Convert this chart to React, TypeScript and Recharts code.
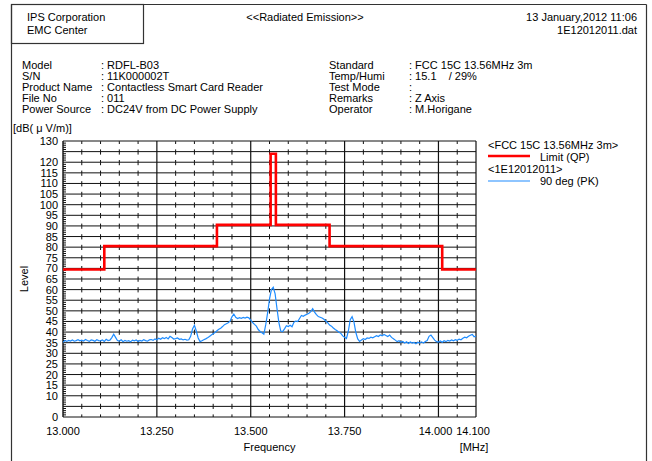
import React from 'react';
import { LineChart, Line, XAxis, YAxis, ReferenceLine } from 'recharts';

const FONT = '"Liberation Sans", Arial, Helvetica, sans-serif';

// FCC Part 15C 13.56 MHz limit (QP): breakpoints in MHz / dB(uV/m)
const LIMIT_FREQ = [13.0, 13.11, 13.41, 13.553, 13.567, 13.71, 14.01, 14.1];
const LIMIT_LEVEL = [69.5, 80.5, 90.5, 124.0, 90.5, 80.5, 69.5, 69.5];

// Measured sweep, 90 deg (PK), one reading every 5 kHz from 13.000 MHz
const SWEEP_START = 13.0;
const SWEEP_STEP = 0.005;
const SWEEP_LEVEL = [
  35.2, 36.0, 35.6, 36.1, 35.8, 36.3, 35.7, 36.0, 36.4, 35.9,
  36.2, 35.8, 36.5, 36.0, 35.6, 36.3, 36.1, 35.7, 36.4, 36.0,
  35.9, 36.3, 35.6, 36.6, 36.0, 36.2, 37.4, 39.0, 37.5, 36.0,
  35.8, 36.4, 35.5, 36.1, 35.7, 36.0, 35.4, 36.2, 35.9, 36.3,
  35.6, 36.1, 35.8, 36.4, 36.0, 35.7, 36.3, 36.5, 36.1, 36.8,
  36.4, 37.1, 36.6, 37.3, 36.9, 37.5, 36.8, 38.0, 37.4, 36.7,
  36.9, 37.2, 36.6, 36.8, 36.3, 36.6, 36.2, 36.4, 38.0, 41.5,
  43.2, 40.5, 37.2, 35.5, 35.9, 36.4, 36.8, 37.3, 37.9, 38.6,
  39.2, 39.8, 40.6, 41.3, 41.8, 42.6, 43.5, 43.9, 44.4, 45.1,
  47.2, 48.5, 47.0, 46.4, 46.8, 46.5, 46.9, 46.6, 47.0, 46.7,
  45.6, 44.5, 43.6, 42.8, 41.2, 40.3, 39.7, 39.0, 43.5, 49.0,
  55.5, 60.0, 61.1, 58.0, 51.0, 44.5, 40.5, 40.2, 41.5, 43.0,
  42.6, 43.2, 42.5, 44.6, 45.2, 45.0, 46.4, 47.8, 47.4, 48.0,
  48.4, 48.9, 49.6, 51.0, 49.4, 48.2, 47.3, 47.0, 46.6, 46.0,
  45.2, 44.4, 43.3, 42.8, 41.9, 41.2, 40.6, 39.9, 39.4, 38.2,
  37.6, 37.0, 40.5, 45.8, 47.3, 44.7, 39.8, 36.8, 35.6, 36.3,
  36.9, 36.5, 37.2, 37.0, 37.6, 37.3, 37.8, 38.3, 37.9, 38.6,
  38.2, 38.9, 38.4, 37.9, 38.6, 37.5, 36.9, 36.2, 35.5, 35.9,
  35.2, 35.6, 34.9, 35.4, 34.6, 35.3, 34.8, 35.1, 34.5, 35.2,
  34.8, 35.4, 34.9, 35.6, 36.0, 38.0, 38.6, 37.4, 36.2, 35.5,
  35.3, 35.8, 35.2, 35.9, 35.5, 36.1, 35.8, 36.3, 35.9, 36.4,
  36.1, 36.7, 36.4, 37.1, 37.6, 37.3, 38.0, 38.5, 38.9, 37.8,
  38.1,
];

const X_TICKS = [13.0, 13.25, 13.5, 13.75, 14.0, 14.1];
const Y_TICKS = [0, 10, 15, 20, 25, 30, 35, 40, 45, 50, 55, 60, 65, 70, 75, 80, 85, 90, 95, 100, 105, 110, 115, 120, 130];
const GRID_LEVELS = [0, 5, 10, 15, 20, 25, 30, 35, 40, 45, 50, 55, 60, 65, 70, 75, 80, 85, 90, 95, 100, 105, 110, 115, 120, 125, 130];
const MAJOR_FREQS = [13.25, 13.5, 13.75, 14.0];
const MINOR_FREQS = [13.05, 13.1, 13.15, 13.2, 13.3, 13.35, 13.4, 13.45, 13.55, 13.6, 13.65, 13.7, 13.8, 13.85, 13.9, 13.95, 14.05];
const FINE_LEVELS = Array.from({ length: 131 }, (_, i) => i).filter((v) => v % 5 !== 0);

const HEADER_LEFT = ['IPS Corporation', 'EMC Center'];
const HEADER_TITLE = '<<Radiated Emission>>';
const HEADER_RIGHT = ['13 January,2012 11:06', '1E12012011.dat'];
const INFO_LEFT_LABELS = ['Model', 'S/N', 'Product Name', 'File No', 'Power Source'];
const INFO_LEFT_VALUES = [': RDFL-B03', ': 11K000002T', ': Contactless Smart Card Reader', ': 011', ': DC24V from DC Power Supply'];
const INFO_RIGHT_LABELS = ['Standard', 'Temp/Humi', 'Test Mode', 'Remarks', 'Operator'];
const INFO_RIGHT_VALUES = [': FCC 15C 13.56MHz 3m', ': 15.1    / 29%', ':', ': Z Axis', ': M.Horigane'];
const LEGEND_LIMIT_TITLE = '<FCC 15C 13.56MHz 3m>';
const LEGEND_LIMIT_NAME = 'Limit (QP)';
const LEGEND_DATA_TITLE = '<1E12012011>';
const LEGEND_DATA_NAME = '90 deg (PK)';

const limitData = LIMIT_FREQ.map((f, i) => ({ f, level: LIMIT_LEVEL[i] }));
const sweepData = SWEEP_LEVEL.map((v, i) => ({ f: +(SWEEP_START + i * SWEEP_STEP).toFixed(3), level: v }));

const RED = '#ff0000';
const BLUE = '#1e8cff';
const INK = '#000';

const XTick = (props: any) => {
  const { x, y, payload } = props;
  const v = payload.value as number;
  const shift = v >= 14.05 ? -3 : v >= 13.99 ? -3 : 0;
  return (
    <text x={x + shift} y={y + 18} textAnchor="middle" fontSize={11} fontFamily={FONT} fill={INK}>
      {v.toFixed(3)}
    </text>
  );
};

const YTick = (props: any) => {
  const { x, y, payload } = props;
  return (
    <text x={x} y={y + 4} textAnchor="end" fontSize={11} fontFamily={FONT} fill={INK}>
      {payload.value}
    </text>
  );
};

const Txt = ({ x, y, children, anchor = 'start' }: any) => (
  <text x={x} y={y} textAnchor={anchor} fontSize={11} fontFamily={FONT} fill={INK}>
    {children}
  </text>
);

export default function App() {
  return (
    <div style={{ position: 'absolute', left: 0, top: 0, width: 652, height: 461, background: '#fff' }}>
      <LineChart
        width={652}
        height={461}
        margin={{ top: 141, right: 176, bottom: 20, left: 13 }}
        style={{ background: '#fff' }}
      >
        <XAxis
          type="number"
          dataKey="f"
          domain={[13.0, 14.1]}
          ticks={X_TICKS}
          interval={0}
          allowDataOverflow
          height={24}
          tickLine={false}
          axisLine={false}
          tickSize={0}
          tickMargin={0}
          tick={<XTick />}
        />
        <YAxis
          type="number"
          domain={[0, 130]}
          ticks={Y_TICKS}
          interval={0}
          allowDataOverflow
          width={50}
          tickLine={false}
          axisLine={false}
          tickSize={0}
          tickMargin={5}
          tick={<YTick />}
        />
        {MINOR_FREQS.map((f) => (
          <ReferenceLine key={`mf${f}`} x={f} stroke="#111" strokeWidth={1} strokeDasharray="2.6 5.4 2.6 0" />
        ))}
        {GRID_LEVELS.map((v) => (
          <ReferenceLine key={`gl${v}`} y={v} stroke="#111" strokeWidth={1} />
        ))}
        {MAJOR_FREQS.map((f) => (
          <ReferenceLine key={`mj${f}`} x={f} stroke="#111" strokeWidth={1.2} />
        ))}
        <ReferenceLine x={13.0} stroke="#111" strokeWidth={1.4} />
        <ReferenceLine x={14.1} stroke="#111" strokeWidth={1.2} />
        {FINE_LEVELS.map((v) => (
          <ReferenceLine key={`fl${v}`} segment={[{ x: 13.0, y: v }, { x: 13.008, y: v }]} stroke="#111" strokeWidth={1} />
        ))}
        <Line
          data={sweepData}
          dataKey="level"
          type="linear"
          stroke={BLUE}
          strokeWidth={1.2}
          dot={false}
          activeDot={false}
          isAnimationActive={false}
        />
        <Line
          data={limitData}
          dataKey="level"
          type="stepAfter"
          stroke={RED}
          strokeWidth={2.6}
          dot={false}
          activeDot={false}
          isAnimationActive={false}
        />
      </LineChart>
      <svg
        width={652}
        height={461}
        style={{ position: 'absolute', left: 0, top: 0, pointerEvents: 'none' }}
      >
        {/* page frame */}
        <line x1={11.5} y1={4.5} x2={646.5} y2={4.5} stroke="#333" strokeWidth={1.2} />
        <line x1={11.5} y1={4.5} x2={11.5} y2={461} stroke="#333" strokeWidth={1.2} />
        <line x1={646.5} y1={4.5} x2={646.5} y2={461} stroke="#333" strokeWidth={1.2} />
        <rect x={11.5} y={4.5} width={132} height={39} fill="none" stroke="#333" strokeWidth={1.2} />

        {/* header */}
        <Txt x={27} y={21}>{HEADER_LEFT[0]}</Txt>
        <Txt x={27} y={34}>{HEADER_LEFT[1]}</Txt>
        <Txt x={305} y={21} anchor="middle">{HEADER_TITLE}</Txt>
        <Txt x={637} y={21} anchor="end">{HEADER_RIGHT[0]}</Txt>
        <Txt x={637} y={34} anchor="end">{HEADER_RIGHT[1]}</Txt>

        {INFO_LEFT_LABELS.map((t, i) => (
          <Txt key={`ll${i}`} x={22} y={69 + i * 11}>{t}</Txt>
        ))}
        {INFO_LEFT_VALUES.map((t, i) => (
          <text key={`lv${i}`} x={101} y={69 + i * 11} fontSize={11} fontFamily={FONT} fill={INK} style={{ whiteSpace: 'pre' }}>{t}</text>
        ))}
        {INFO_RIGHT_LABELS.map((t, i) => (
          <Txt key={`rl${i}`} x={329} y={69 + i * 11}>{t}</Txt>
        ))}
        {INFO_RIGHT_VALUES.map((t, i) => (
          <text key={`rv${i}`} x={409} y={69 + i * 11} fontSize={11} fontFamily={FONT} fill={INK} style={{ whiteSpace: 'pre' }}>{t}</text>
        ))}

        {/* axis titles */}
        <Txt x={13} y={132}>[dB( μ V/m)]</Txt>
        <text x={24} y={279} transform="rotate(-90 24 279)" textAnchor="middle" dominantBaseline="central" fontSize={11} fontFamily={FONT} fill={INK}>Level</text>
        <Txt x={269.5} y={451} anchor="middle">Frequency</Txt>
        <Txt x={474} y={451} anchor="middle">[MHz]</Txt>

        {/* legend */}
        <Txt x={488} y={149}>{LEGEND_LIMIT_TITLE}</Txt>
        <line x1={488} y1={156} x2={530} y2={156} stroke={RED} strokeWidth={2.6} />
        <Txt x={540} y={161}>{LEGEND_LIMIT_NAME}</Txt>
        <Txt x={488} y={173}>{LEGEND_DATA_TITLE}</Txt>
        <line x1={488} y1={181} x2={530} y2={181} stroke={BLUE} strokeWidth={1.2} />
        <Txt x={540} y={185}>{LEGEND_DATA_NAME}</Txt>
      </svg>
    </div>
  );
}
